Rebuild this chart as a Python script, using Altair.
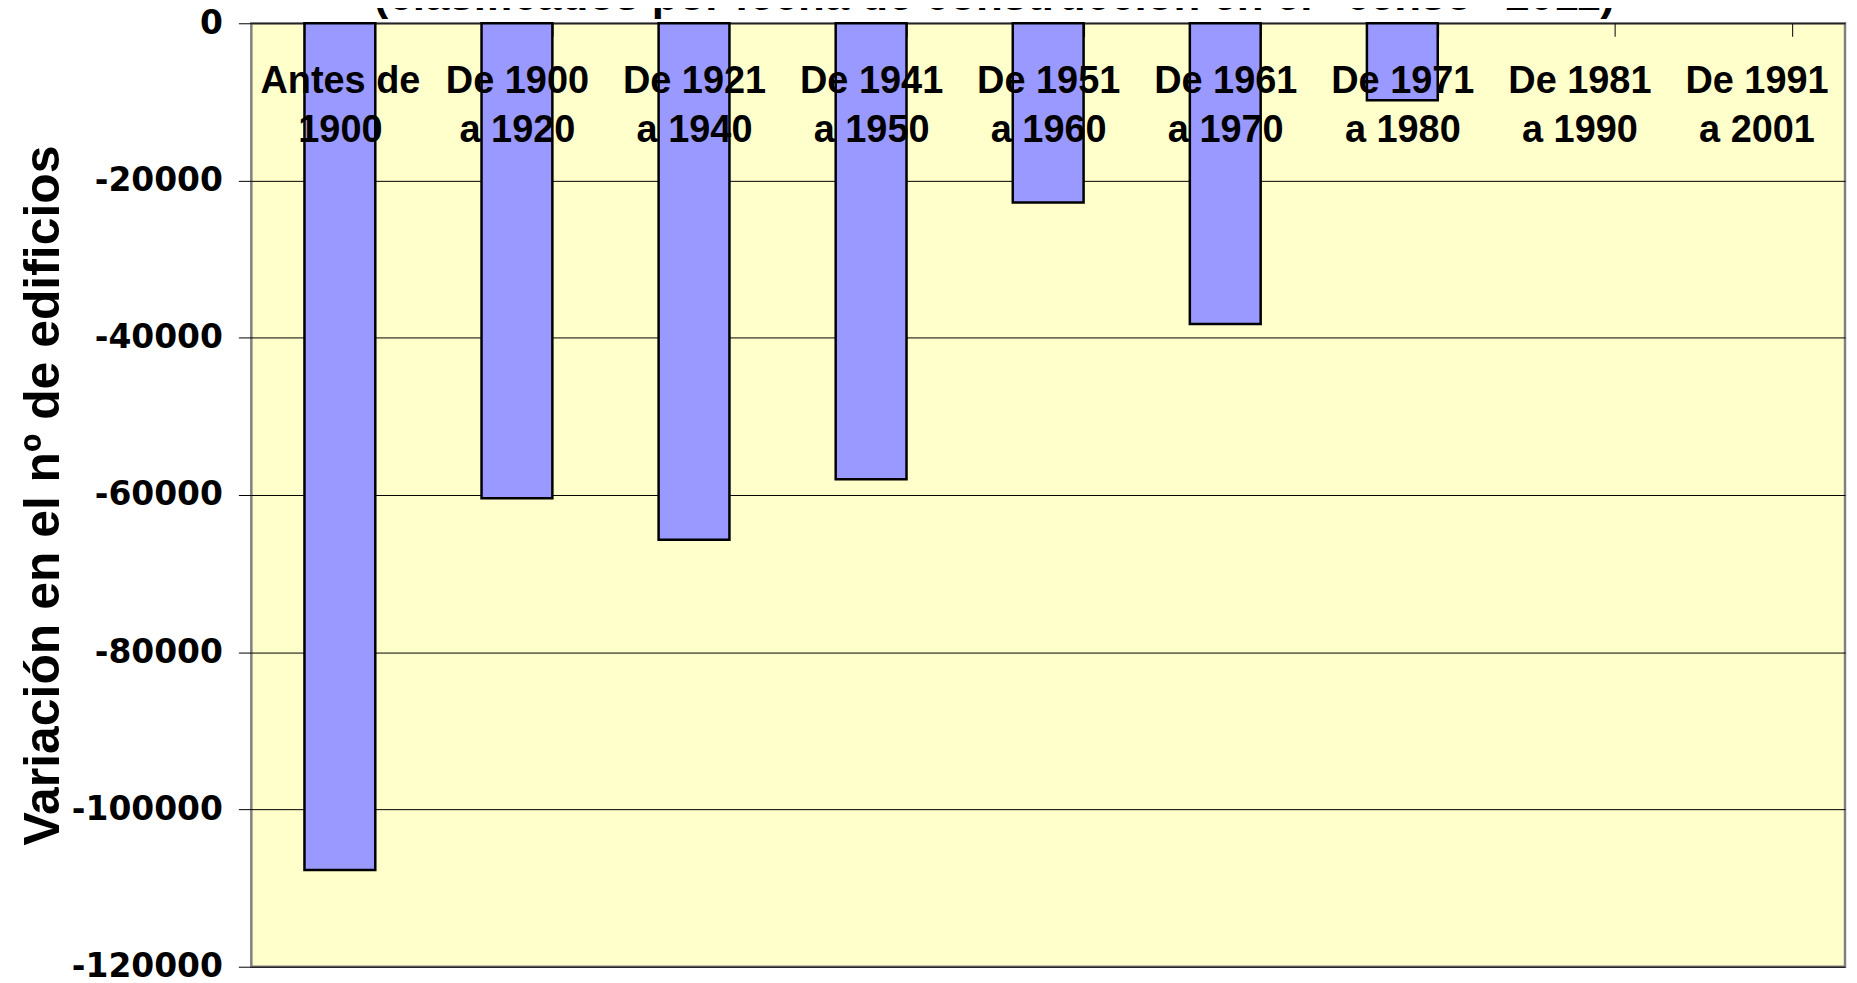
import altair as alt
import pandas as pd

categories = ["Antes de 1900", "De 1900 a 1920", "De 1921 a 1940", "De 1941 a 1950",
              "De 1951 a 1960", "De 1961 a 1970", "De 1971 a 1980", "De 1981 a 1990",
              "De 1991 a 2001"]
values = [-107700, -60400, -65700, -58000, -22800, -38250, -9800, 0, 0]
y_ticks = [0, -20000, -40000, -60000, -80000, -100000, -120000]

title_text = "(clasificados por fecha de construcción en el \"censo\" 2011)"
y_title = "Variación en el nº de edificios"

df = pd.DataFrame({"cat": categories, "val": values})
title_df = pd.DataFrame({"t": [title_text]})

W, H = 1598, 946

label_expr = ("datum.label == 'Antes de 1900' ? ['Antes de', '1900'] : "
              "[slice(datum.label, 0, 7), slice(datum.label, 8)]")

bars = alt.Chart(df).mark_bar(
    fill="#9999FF", stroke="#000000"
).encode(
    x=alt.X("cat:N", sort=categories,
            scale=alt.Scale(paddingInner=0.6, paddingOuter=0.3),
            axis=alt.Axis(orient="bottom", offset=-H, title=None, domain=False,
                          tickBand="extent", tickSize=13, tickColor="#000000",
                          tickWidth=1, labelAngle=0, labelExpr=label_expr,
                          labelFont="Liberation Sans", labelFontSize=38,
                          labelFontWeight="bold", labelColor="#000000",
                          labelLineHeight=50, labelPadding=26,
                          labelBaseline="top", labelAlign="center",
                          zindex=1)),
    y=alt.Y("val:Q", scale=alt.Scale(domain=[-120000, 0], nice=False),
            axis=alt.Axis(values=y_ticks, labelExpr="datum.value + ''",
                          title=y_title, titleFont="Liberation Sans",
                          titleFontSize=50, titleFontWeight="bold",
                          titleColor="#000000", titlePadding=3,
                          labelFont="DejaVu Sans", labelFontSize=33,
                          labelFontWeight="bold", labelColor="#000000",
                          labelPadding=16, tickSize=13, tickColor="#000000",
                          tickWidth=1, domain=False, grid=True,
                          gridColor="#000000", gridWidth=1, gridOpacity=1,
                          zindex=0)),
    strokeWidth=alt.condition("datum.val == 0", alt.value(0), alt.value(2.5)),
)

title_mark = alt.Chart(title_df).mark_text(
    font="Liberation Sans", fontSize=44, fontWeight="bold", color="#000000",
    align="center", baseline="alphabetic"
).encode(
    text="t:N",
    x=alt.value(W / 2 - 54),
    y=alt.value(-13.5),
)

chart = alt.layer(bars, title_mark).properties(
    width=W, height=H,
    autosize=alt.AutoSizeParams(type="none"),
    padding={"left": 244, "top": 14, "right": 4, "bottom": 12},
    background="#FFFFFF",
).configure_view(
    fill="#FFFFCC", stroke="#808080", strokeWidth=2.5
)

chart.save("out.html", embed_options={"renderer": "svg", "actions": False})
